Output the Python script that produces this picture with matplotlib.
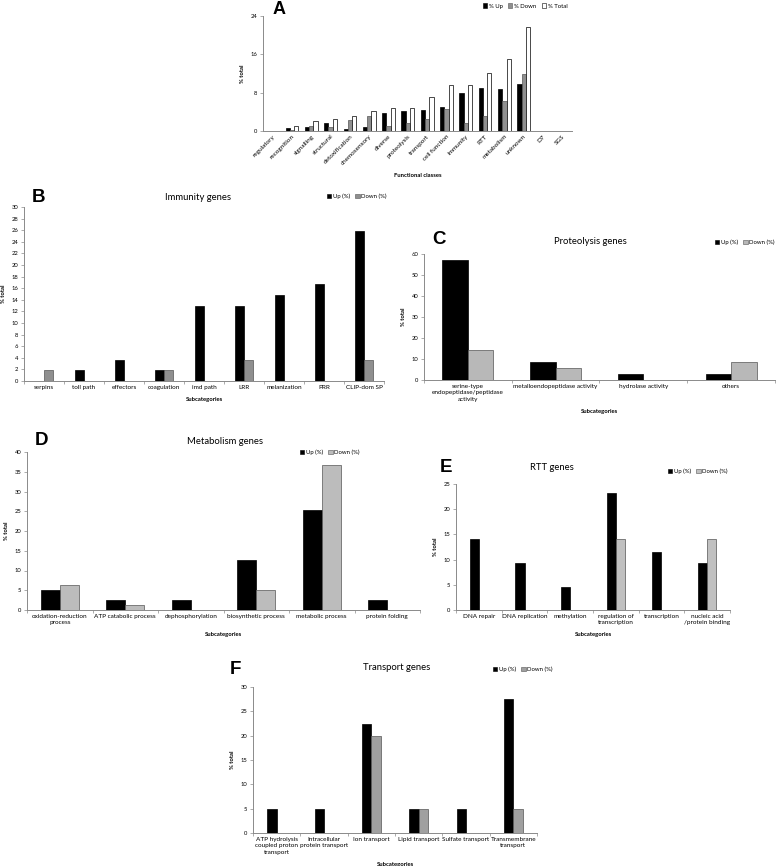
import matplotlib

matplotlib.use("Agg")
import matplotlib.pyplot as plt
import numpy as np

W, H = 778, 866

# Panel A - functional classes
classes_a = ["regulatory", "recognition", "signalling", "structural", "detoxification",
             "chemosensory", "diverse", "proteolysis", "transport", "cell function",
             "immunity", "RTT", "metabolism", "unknown", "D7", "SGS"]
up_a = [0.1, 0.6, 0.9, 1.7, 0.4, 0.9, 3.7, 4.2, 4.4, 5.1, 7.9, 9.0, 8.7, 9.8, 0.0, 0.0]
down_a = [0.0, 0.2, 1.0, 0.8, 2.4, 3.1, 1.0, 1.6, 2.6, 4.5, 1.6, 3.2, 6.2, 12.0, 0.0, 0.1]
total_a = [0.1, 1.0, 2.1, 2.6, 3.1, 4.1, 4.9, 4.9, 7.1, 9.7, 9.7, 12.2, 15.0, 21.8, 0.0, 0.1]

# Panel B - immunity
cats_b = ["serpins", "toll path", "effectors", "coagulation", "imd path", "LRR",
          "melanization", "PRR", "CLIP-dom SP"]
up_b = [0.0, 1.85, 3.7, 1.85, 13.0, 13.0, 14.8, 16.7, 25.9]
down_b = [1.85, 0.0, 0.0, 1.85, 0.0, 3.7, 0.0, 0.0, 3.7]

# Panel C - proteolysis
cats_c = ["serine-type\nendopeptidase/peptidase\nactivity", "metalloendopeptidase activity",
          "hydrolase activity", "others"]
up_c = [57.1, 8.6, 2.9, 2.9]
down_c = [14.3, 5.7, 0.0, 8.6]

# Panel D - metabolism
cats_d = ["oxidation-reduction\nprocess", "ATP catabolic process", "dephosphorylation",
          "biosynthetic process", "metabolic process", "protein folding"]
up_d = [5.1, 2.5, 2.5, 12.7, 25.3, 2.5]
down_d = [6.3, 1.3, 0.0, 5.1, 36.7, 0.0]

# Panel E - RTT
cats_e = ["DNA repair", "DNA replication", "methylation", "regulation of\ntranscription",
          "transcription", "nucleic acid\n/protein binding"]
up_e = [14.0, 9.3, 4.65, 23.3, 11.6, 9.3]
down_e = [0.0, 0.0, 0.0, 14.0, 0.0, 14.0]

# Panel F - transport
cats_f = ["ATP hydrolysis\ncoupled proton\ntransport", "Intracellular\nprotein transport",
          "Ion transport", "Lipid transport", "Sulfate transport", "Transmembrane\ntransport"]
up_f = [5.0, 5.0, 22.5, 5.0, 5.0, 27.5]
down_f = [0.0, 0.0, 20.0, 5.0, 0.0, 5.0]

plt.rcParams["font.family"] = ["Lato", "DejaVu Sans"]
fig = plt.figure(figsize=(W / 100, H / 100), dpi=100)
fig.patch.set_facecolor("white")

AXC = "#8a8a8a"


def px_axes(left, top, right, bottom):
    return fig.add_axes([left / W, 1 - bottom / H, (right - left) / W, (bottom - top) / H])


def style(ax, ymax, step):
    for s in ("top", "right"):
        ax.spines[s].set_visible(False)
    for s in ("left", "bottom"):
        ax.spines[s].set_color(AXC)
        ax.spines[s].set_linewidth(0.7)
    ax.set_ylim(0, ymax)
    ax.set_yticks(np.arange(0, ymax + 0.01, step))
    ax.tick_params(axis="y", labelsize=4.2, length=2, width=0.5, color=AXC, pad=2)
    ax.tick_params(axis="x", labelsize=4.6, length=0, pad=3)


def xfix(x, y, s, **kw):
    fig.text(x / W, 1 - y / H, s, **kw)


def pair_panel(rect, cats, up, down, ymax, step, title, title_xy, letter, letter_xy,
               leg_xy, width, down_color):
    ax = px_axes(*rect)
    x = np.arange(len(cats))
    ax.bar(x - width / 2, up, width, color="black", edgecolor="black", linewidth=0.5)
    ax.bar(x + width / 2, down, width, color=down_color, edgecolor="#555555", linewidth=0.5)
    style(ax, ymax, step)
    ax.set_xlim(-0.5, len(cats) - 0.5)
    ax.set_xticks(x)
    ax.set_xticklabels(cats, linespacing=1.3)
    ax.set_xticks(np.arange(len(cats) + 1) - 0.5, minor=True)
    ax.tick_params(axis="x", which="minor", length=2.5, width=0.5, color=AXC)
    ax.set_xlabel("Subcategories", fontsize=4.2, fontweight="bold", labelpad=5)
    ax.set_ylabel("% total", fontsize=4.2, fontweight="bold", labelpad=4)
    xfix(*title_xy, title, fontsize=6.8, ha="center", va="center")
    xfix(*letter_xy, letter, fontsize=13.5, fontweight="bold", ha="left", va="center",
         family="Liberation Sans")
    h1 = plt.Rectangle((0, 0), 1, 1, fc="black", ec="black", lw=0.4)
    h2 = plt.Rectangle((0, 0), 1, 1, fc=down_color, ec="#555555", lw=0.4)
    fig.legend([h1, h2], ["Up (%)", "Down (%)"], loc="center left",
               bbox_to_anchor=(leg_xy[0] / W, 1 - leg_xy[1] / H), ncol=2, frameon=False,
               fontsize=4.3, handlelength=0.7, handleheight=0.7, handletextpad=0.3,
               columnspacing=0.9, borderpad=0, borderaxespad=0)
    return ax


# Panel A
ax = px_axes(263, 16, 572, 131)
x = np.arange(len(classes_a))
w = 0.22
ax.bar(x - w, up_a, w, color="black", edgecolor="black", linewidth=0.5)
ax.bar(x, down_a, w, color="#8f8f8f", edgecolor="#555555", linewidth=0.5)
ax.bar(x + w, total_a, w, color="white", edgecolor="black", linewidth=0.5)
style(ax, 24, 8)
ax.set_xlim(-0.5, len(classes_a) - 0.5)
ax.set_xticks(x)
ax.set_xticklabels(classes_a, rotation=45, ha="right", rotation_mode="anchor")
ax.tick_params(axis="x", pad=2)
ax.set_xlabel("Functional classes", fontsize=4.2, fontweight="bold", labelpad=5)
ax.set_ylabel("% total", fontsize=4.2, fontweight="bold", labelpad=4)
xfix(273, 9, "A", fontsize=13, fontweight="bold", ha="left", va="center",
     family="Liberation Sans")
hs = [plt.Rectangle((0, 0), 1, 1, fc="black", ec="black", lw=0.4),
      plt.Rectangle((0, 0), 1, 1, fc="#8f8f8f", ec="#555555", lw=0.4),
      plt.Rectangle((0, 0), 1, 1, fc="white", ec="black", lw=0.4)]
fig.legend(hs, ["% Up", "% Down", "% Total"], loc="center left",
           bbox_to_anchor=(483 / W, 1 - 6 / H), ncol=3, frameon=False, fontsize=4.3,
           handlelength=0.7, handleheight=0.7, handletextpad=0.3, columnspacing=0.9,
           borderpad=0, borderaxespad=0)

pair_panel((24, 207, 384, 381), cats_b, up_b, down_b, 30, 2, "Immunity genes", (198, 197),
           "B", (32, 198), (327, 196), 0.22, "#8f8f8f")
pair_panel((424, 254, 775, 380), cats_c, up_c, down_c, 60, 10, "Proteolysis genes", (590, 241),
           "C", (432, 239), (715, 242), 0.29, "#b8b8b8")
pair_panel((27, 452, 420, 610), cats_d, up_d, down_d, 40, 5, "Metabolism genes", (225, 442),
           "D", (35, 440), (300, 452), 0.29, "#bcbcbc")
pair_panel((456, 484, 730, 610), cats_e, up_e, down_e, 25, 5, "RTT genes", (552, 467),
           "E", (440, 467), (668, 471), 0.2, "#c0c0c0")
pair_panel((253, 687, 537, 833), cats_f, up_f, down_f, 30, 5, "Transport genes", (397, 667),
           "F", (230, 669), (493, 669), 0.2, "#a0a0a0")

fig.savefig("out.png", dpi=100, facecolor="white")
